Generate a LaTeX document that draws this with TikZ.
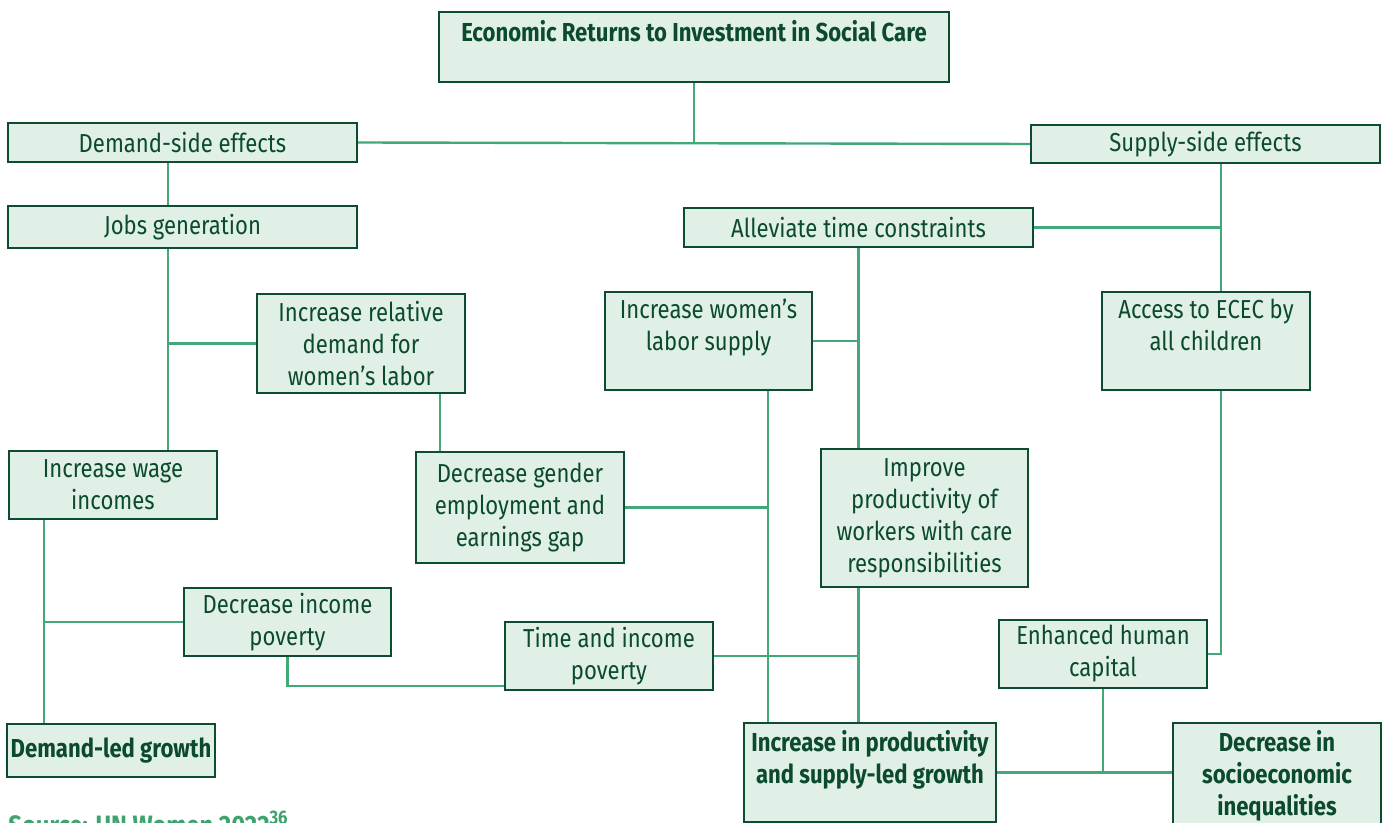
\documentclass[tikz,border=0pt]{standalone}
\usepackage{fontspec}
\setmainfont{Fira Sans}[FakeStretch=0.85]
\usepackage{xcolor}
\usepackage{tikz}
\usetikzlibrary{positioning}
\definecolor{boxfill}{HTML}{E0F0E7}
\definecolor{boxline}{HTML}{0E4C32}
\definecolor{ink}{HTML}{0B4A2F}
\definecolor{linkgreen}{HTML}{43A878}
\definecolor{srcgreen}{HTML}{3FA36E}
\tikzset{
  box/.style={draw=boxline,fill=boxfill,line width=1pt,text=ink,align=center,inner sep=0pt,
              font=\fontsize{13}{16}\selectfont},
  outcome/.style={box,font=\fontsize{13}{16}\selectfont\bfseries},
  dims/.style 2 args={minimum width=#1*0.5pt,minimum height=#2*0.5pt},
  link/.style={draw=linkgreen,line width=1.2pt}
}

\begin{document}
\begin{tikzpicture}[x=0.5pt,y=-0.5pt]
  \clip (0,0) rectangle (1388,823);
  \fill[white] (0,0) rectangle (1388,823);

  % Root and the two branches.
  \node[outcome,dims={510}{70},font=\fontsize{13}{16}\selectfont\bfseries] (root) at (694,47)
    {Economic Returns to Investment in Social Care\\ \mbox{}};
  \node[box,dims={349}{39}] (demand) at (182.5,142.5) {Demand-side effects};
  \node[box,dims={349}{38}] (supply) at (1205.5,144) {Supply-side effects};

  % Demand side.
  \node[box,dims={349}{42}] (jobs) at (182.5,227) {Jobs generation};
  \node[box,dims={208}{99}] (reldem) at (361,343.5) {Increase relative\\demand for\\women's labor};
  \node[box,dims={208}{68}] (wage) at (113,485) {Increase wage\\incomes};
  \node[box,dims={208}{111}] (gap) at (520,507.5) {Decrease gender\\employment and\\earnings gap};
  \node[box,dims={207}{68}] (incpov) at (287.5,622) {Decrease income\\poverty};
  \node[outcome,dims={208}{53}] (dgrowth) at (111,750.5) {Demand-led growth};

  % Supply side.
  \node[box,dims={349}{39}] (allev) at (858.5,227.5) {Alleviate time constraints};
  \node[box,dims={207}{98}] (labsup) at (708.5,341) {Increase women's\\labor supply\\ \mbox{}};
  \node[box,dims={208}{98}] (ecec) at (1206,341) {Access to ECEC by\\all children\\ \mbox{}};
  \node[box,dims={207}{138}] (improve) at (924.5,518)
    {Improve\\productivity of\\workers with care\\responsibilities};
  \node[box,dims={208}{68}] (timepov) at (609,656) {Time and income\\poverty};
  \node[box,dims={208}{68}] (human) at (1103,654) {Enhanced human\\capital};
  \node[outcome,dims={252}{99}] (sgrowth) at (870,772.5)
    {Increase in productivity\\and supply-led growth\\ \mbox{}};
  \node[outcome,dims={208}{106}] (ineq) at (1277,776) {Decrease in\\socioeconomic\\inequalities};

  \node[anchor=north west,inner sep=0pt,text=srcgreen,font=\fontsize{14}{16}\selectfont\bfseries]
    (src) at (8,811) {Source: UN Women 2022\textsuperscript{36}};

  % Trunk lines at fixed x positions.
  \coordinate (jA) at (168,342);
  \coordinate (jB) at (440,0);
  \coordinate (jC) at (1221,0);
  \coordinate (jD) at (768,0);
  \coordinate (jE) at (44,619);
  \coordinate (jF) at (288,686);

  \draw[link] (demand.east) -- (supply.west);
  \draw[link] (root.south) -- (root.south |- demand.east);
  \draw[link] (demand.south -| jA) -- (jobs.north -| jA);
  \draw[link] (jobs.south -| jA) -- (wage.north -| jA);
  \draw[link] (reldem.west) -- (reldem.west -| jA);
  \draw[link] (reldem.south -| jB) -- (gap.north -| jB);
  \draw[link] (wage.south -| jE) -- (dgrowth.north -| jE);
  \draw[link] (incpov.west) -- (incpov.west -| jE);
  \draw[link] (incpov.south) |- (timepov.west |- jF);

  \draw[link] (supply.south -| jC) -- (ecec.north -| jC);
  \draw[link] (allev.east) -- (allev.east -| jC);
  \draw[link] (allev.south) -- (allev.south |- improve.north);
  \draw[link] (labsup.east) -- (labsup.east -| allev.south);
  \draw[link] (labsup.south -| jD) -- (sgrowth.north -| jD);
  \draw[link] (gap.east) -- (gap.east -| jD);
  \draw[link] (improve.south -| allev.south) -- (sgrowth.north -| allev.south);
  \draw[link] (timepov.east) -- (timepov.east -| allev.south);
  \draw[link] (ecec.south -| jC) |- (human.east);
  \draw[link] (sgrowth.east) -- (sgrowth.east -| ineq.west);
  \draw[link] (human.south) -- (human.south |- sgrowth.east);
\end{tikzpicture}
\end{document}
